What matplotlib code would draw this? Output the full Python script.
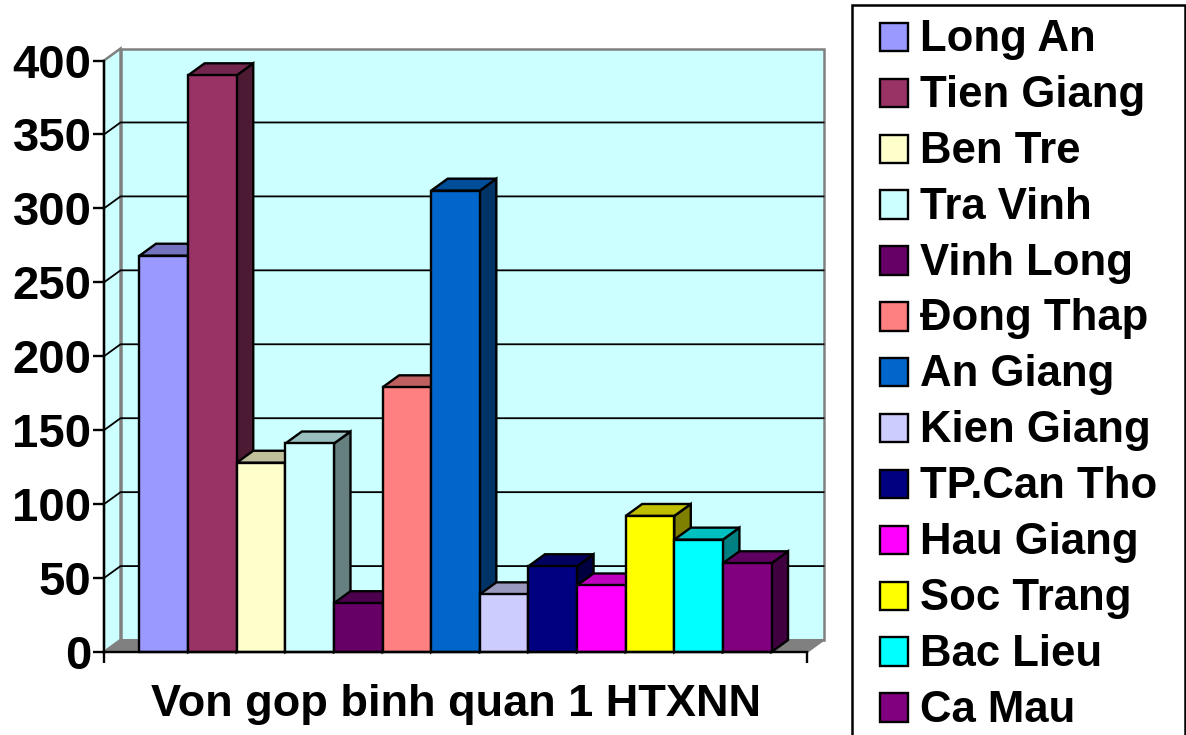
import matplotlib
matplotlib.use('agg')
import matplotlib.pyplot as plt
from matplotlib.colors import to_rgb
from matplotlib.patches import Patch, Polygon, Rectangle

import numpy as np

provinces = ['Long An', 'Tien Giang', 'Ben Tre', 'Tra Vinh', 'Vinh Long', 'Đong Thap', 'An Giang',
             'Kien Giang', 'TP.Can Tho', 'Hau Giang', 'Soc Trang', 'Bac Lieu', 'Ca Mau']
von_gop = [268, 390, 128, 141, 33, 179, 312, 39, 58, 45, 92, 76, 60]
bar_colors = ['#9999FF', '#993366', '#FFFFCC', '#CCFFFF', '#660066', '#FF8080', '#0066CC',
              '#CCCCFF', '#000080', '#FF00FF', '#FFFF00', '#00FFFF', '#800080']
y_ticks = [0, 50, 100, 150, 200, 250, 300, 350, 400]
x_label = 'Von gop binh quan 1 HTXNN'

W, H = 1186.0, 735.0
BLACK_LW = 1.7
WALL = '#CCFFFF'
GREY = '#808080'

# fake 3D offsets of the chart depth, in data units
DX, DY = 0.34, 8.1
X0, X1 = -0.73, 13.73


def shade(color, f):
    return tuple(c*f for c in to_rgb(color))


def draw_bar(ax, x, val, color):
    top = [(x, val), (x+1, val), (x+1+DX, val+DY), (x+DX, val+DY)]
    side = [(x+1, 0), (x+1+DX, DY), (x+1+DX, val+DY), (x+1, val)]
    ax.add_patch(Polygon(side, fc=shade(color, 0.5), ec='k', lw=BLACK_LW, zorder=3, clip_on=False))
    ax.add_patch(Polygon(top, fc=shade(color, 0.75), ec='k', lw=BLACK_LW, zorder=3, clip_on=False))
    ax.bar(x, val, width=1, align='edge', color=color, edgecolor='k', lw=BLACK_LW, zorder=3, clip_on=False)


fig = plt.figure(figsize=(W/100, H/100), dpi=100)
plt.rcParams['font.family'] = ['Liberation Sans', 'DejaVu Sans']
ax = fig.add_axes([104/W, 1-652/H, 703/W, 591.5/H])
ax.set_xlim(X0, X1)
ax.set_ylim(0, 400)
ax.patch.set_visible(False)

# walls and floor
back = [(X0+DX, DY), (X1+DX, DY), (X1+DX, 400+DY), (X0+DX, 400+DY)]
left = [(X0, 0), (X0+DX, DY), (X0+DX, 400+DY), (X0, 400)]
floor = [(X0, 0), (X1, 0), (X1+DX, DY), (X0+DX, DY)]
ax.add_patch(Polygon(left, fc=WALL, ec=GREY, lw=1.8, zorder=1, clip_on=False))
ax.add_patch(Polygon(back, fc=WALL, ec=GREY, lw=1.8, zorder=1, clip_on=False))
ax.add_patch(Polygon(floor, fc=GREY, ec=GREY, lw=1.5, zorder=1, clip_on=False))

for t in y_ticks[1:-1]:
    ax.plot([X0, X0+DX, X1+DX], [t, t+DY, t+DY], color='k', lw=1.3, zorder=2, clip_on=False)

for i, (val, color) in enumerate(zip(von_gop, bar_colors)):
    draw_bar(ax, i, val, color)

for s in ['top', 'right']:
    ax.spines[s].set_visible(False)
for s in ['left', 'bottom']:
    ax.spines[s].set_linewidth(BLACK_LW)
    ax.spines[s].set_zorder(4)

ax.set_yticks(y_ticks)
ax.set_xticks([X0, X1])
ax.set_xticklabels([])
ax.tick_params(axis='both', length=8, width=BLACK_LW, pad=1)
ax.tick_params(axis='y', labelsize=34)
for lab in ax.get_yticklabels():
    lab.set_fontweight('bold')
ax.set_xlabel(x_label, fontsize=32.5, fontweight='bold', labelpad=14)

# legend box runs off the bottom edge of the figure
ax.add_patch(Rectangle((852/W, -0.05), 333/W, 1.05-5/H, transform=fig.transFigure,
                       fc='white', ec='k', lw=1.8, zorder=0.5, clip_on=False))

handles = [Patch(fc=c, ec='k', lw=BLACK_LW) for c in bar_colors]
leg = ax.legend(handles, provinces, loc='upper left', bbox_to_anchor=(880/W, 1-19/H),
                bbox_transform=fig.transFigure, prop={'family': 'Liberation Sans', 'weight': 'bold', 'size': 31.5},
                frameon=False, borderpad=0, borderaxespad=0,
                labelspacing=0.34, handlelength=0.645, handleheight=0.62, handletextpad=0.27)
# keep the swatches centred on the text rows
for p in leg.get_patches():
    p.set_y(p.get_y()-1)

plt.savefig('out.png', dpi=100)
